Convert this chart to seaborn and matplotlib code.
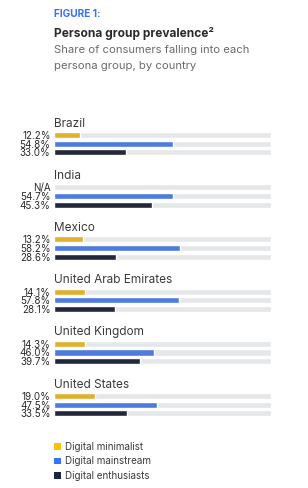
import matplotlib
matplotlib.use("Agg")
import matplotlib.pyplot as plt
import seaborn as sns
import pandas as pd
import numpy as np
from matplotlib.patches import Patch

# Dati
countries = ["Brazil", "India", "Mexico", "United Arab Emirates",
             "United Kingdom", "United States"]
groups = ["Digital minimalist", "Digital mainstream", "Digital enthusiasts"]
minimalist = [12.2, None, 13.2, 14.1, 14.3, 19.0]
mainstream = [54.8, 54.7, 58.2, 57.8, 46.0, 47.5]
enthusiasts = [33.0, 45.3, 28.6, 28.1, 39.7, 33.5]

colors = ["#FFBE0F", "#3674F6", "#1D2441"]
track_color = "#E6E7E9"
text_color = "#2B2B2B"

sns.set_style("white")
plt.rcParams["font.family"] = ["Inter", "DejaVu Sans"]

W, H = 308, 488
fig = plt.figure(figsize=(W / 100, H / 100), dpi=100)

# Titoli
fig.text(54 / W, 1 - 14 / H, "FIGURE 1:", color="#3A72F4", fontsize=7.3,
         fontweight="bold", va="center", ha="left")
fig.text(54 / W, 1 - 34 / H, "Persona group prevalence\u00b2", color=text_color,
         fontsize=8.6, fontweight="bold", va="center", ha="left")
fig.text(54 / W, 1 - 50 / H, "Share of consumers falling into each",
         color="#6B6B6B", fontsize=8.1, va="center", ha="left")
fig.text(54 / W, 1 - 66 / H, "persona group, by country",
         color="#6B6B6B", fontsize=8.1, va="center", ha="left")

x0, x1 = 54, 271
step = 8.7
for i, country in enumerate(countries):
    yc = 135 + 52.2 * i
    top = yc - step / 2
    ax = fig.add_axes([x0 / W, 1 - (top + 3 * step) / H, (x1 - x0) / W, 3 * step / H])
    vals = [minimalist[i], mainstream[i], enthusiasts[i]]
    df = pd.DataFrame({"group": groups,
                       "value": [np.nan if v is None else v for v in vals],
                       "track": [100, 100, 100]})
    sns.barplot(data=df, y="group", x="track", color=track_color, width=0.7,
                ax=ax, orient="h")
    sns.barplot(data=df, y="group", x="value", hue="group", palette=colors,
                width=0.7, ax=ax, orient="h", legend=False)
    ax.set_xlim(0, 100)
    ax.set_ylim(2.5, -0.5)
    ax.set_xlabel("")
    ax.set_ylabel("")
    ax.set_xticks([])
    ax.set_yticks(range(3))
    ax.set_yticklabels(["N/A" if v is None else f"{v:.1f}%" for v in vals],
                       fontsize=7.1, color=text_color)
    ax.tick_params(axis="y", length=0, pad=2.5)
    for s in ax.spines.values():
        s.set_visible(False)
    ax.patch.set_alpha(0)
    ax.text(0, -0.62, country, transform=ax.transData, fontsize=8.5,
            color="#3A3A3A", ha="left", va="bottom")

# Legenda
handles = [Patch(facecolor=c, edgecolor="none") for c in colors]
fig.legend(handles, groups, loc="upper left", bbox_to_anchor=(54 / W, 1 - 442 / H),
           frameon=False, fontsize=7.1, handlelength=0.7, handleheight=0.7,
           handletextpad=0.4, labelspacing=0.45, labelcolor="#3A3A3A",
           borderaxespad=0, borderpad=0)

fig.savefig("out.png", dpi=100)
